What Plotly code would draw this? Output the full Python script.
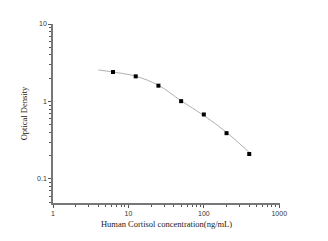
import plotly.graph_objects as go

conc = [6.25, 12.5, 25, 50, 100, 200, 400]
od = [2.40, 2.11, 1.60, 1.01, 0.68, 0.39, 0.21]

curve_x = [4.0, 6.25, 12.5, 25, 50, 100, 200, 400]
curve_y = [2.55, 2.40, 2.12, 1.62, 1.02, 0.66, 0.40, 0.22]

x_major = [1, 10, 100, 1000]
x_major_text = ["1", "10", "100", "1000"]
y_major = [0.1, 1, 10]
y_major_text = ["0.1", "1", "10"]

x_minor = [m * d for d in [1, 10, 100] for m in range(2, 10)]
y_minor = [m * d for d in [0.01, 0.1, 1] for m in range(2, 10)]
y_minor = [v for v in y_minor if v >= 0.05]

fig = go.Figure()
fig.add_trace(go.Scatter(x=curve_x, y=curve_y, mode="lines",
                         line=dict(color="#b0b0b0", width=1, shape="spline"),
                         hoverinfo="skip", showlegend=False))
fig.add_trace(go.Scatter(x=conc, y=od, mode="markers",
                         marker=dict(symbol="square", size=4, color="black"),
                         showlegend=False))

axis_common = dict(showgrid=False, zeroline=False, showline=True,
                   linecolor="#777777", linewidth=1.5, ticks="outside",
                   tickcolor="#555555", ticklen=3, tickwidth=1,
                   tickfont=dict(family="Liberation Sans, Arial", size=7, color="#333333"))

fig.update_xaxes(type="log", range=[0, 3.01], tickvals=x_major, ticktext=x_major_text,
                 minor=dict(tickvals=x_minor, ticks="outside", ticklen=2, tickcolor="#555555"),
                 title=dict(text="Human Cortisol concentration(ng/mL)",
                            font=dict(family="Liberation Serif, Times New Roman", size=8.5, color="#222222"),
                            standoff=5),
                 **axis_common)
fig.update_yaxes(type="log", range=[-1.31, 1.0], tickvals=y_major, ticktext=y_major_text,
                 minor=dict(tickvals=y_minor, ticks="outside", ticklen=2, tickcolor="#555555"),
                 title=dict(text="Optical Density",
                            font=dict(family="Liberation Serif, Times New Roman", size=8.5, color="#222222"),
                            standoff=8),
                 **axis_common)

fig.update_layout(width=328, height=241, margin=dict(l=53, r=48, t=24, b=38),
                  plot_bgcolor="white", paper_bgcolor="white")

fig.write_html("out.html")
